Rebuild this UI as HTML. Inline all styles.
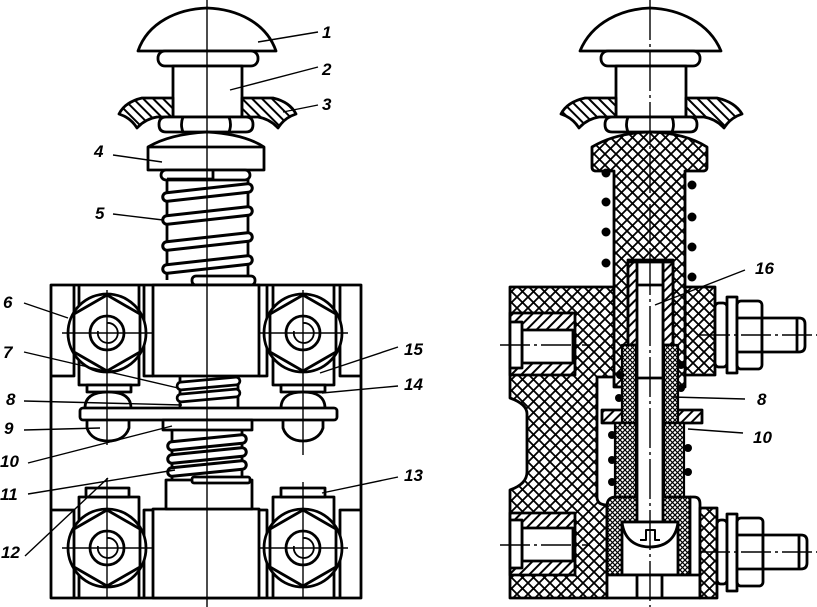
<!DOCTYPE html>
<html><head><meta charset="utf-8"><style>
html,body{margin:0;padding:0;background:#fff;}
svg{display:block;}
text{font-family:"Liberation Sans",sans-serif;font-style:italic;font-weight:bold;font-size:17px;fill:#000;}
</style></head><body>
<svg width="817" height="607" viewBox="0 0 817 607" xmlns="http://www.w3.org/2000/svg">
<defs>
<pattern id="xh" width="11" height="11" patternUnits="userSpaceOnUse"><rect width="11" height="11" fill="#fff"/><path d="M0,0L11,11M11,0L0,11" stroke="#000" stroke-width="1.8"/></pattern>
<pattern id="xf" width="5" height="5" patternUnits="userSpaceOnUse"><rect width="5" height="5" fill="#fff"/><path d="M0,0L5,5M5,0L0,5" stroke="#000" stroke-width="1.2"/></pattern>
<pattern id="hb" width="7" height="7" patternUnits="userSpaceOnUse" patternTransform="rotate(-45)"><rect width="7" height="7" fill="#fff"/><line x1="3.5" y1="0" x2="3.5" y2="7" stroke="#000" stroke-width="2"/></pattern>
<pattern id="hf" width="7" height="7" patternUnits="userSpaceOnUse" patternTransform="rotate(45)"><rect width="7" height="7" fill="#fff"/><line x1="3.5" y1="0" x2="3.5" y2="7" stroke="#000" stroke-width="2"/></pattern>
</defs>

<!-- ================= LEFT VIEW ================= -->
<g fill="#fff" stroke="#000" stroke-width="2.8" stroke-linejoin="round">
<path d="M138,51 C148,22 178,9 207,8 C236,9 266,22 276,51 Z"/>
<rect x="158" y="51" width="100" height="15" rx="7"/>
<rect x="173" y="66" width="69" height="51"/>
<path fill="url(#hb)" d="M173,98 L142,98 Q125,102 119,114 L124,116 Q132,120 137,128 Q145,119 157,117 L173,117 Z"/>
<path fill="url(#hb)" d="M242,98 L273,98 Q290,102 296,114 L291,116 Q283,120 278,128 Q270,119 258,117 L242,117 Z"/>
<path d="M166,117 H246 Q253,117 253,124.5 Q253,132 246,132 H166 Q159,132 159,124.5 Q159,117 166,117 Z"/>
<path d="M183,117 Q180,124.5 183,132 M229,117 Q232,124.5 229,132" fill="none"/>
<path d="M148,147 Q170,134 207,132 Q244,134 264,147 V170 H148 Z"/>
<line x1="148" y1="147" x2="264" y2="147"/>
<line x1="167" y1="178" x2="167" y2="280"/>
<line x1="248" y1="178" x2="248" y2="280"/>
<rect x="161" y="170" width="89" height="10" rx="5"/>
<path d="M167,179 H213 V171" fill="none"/>
</g>
<g stroke-linecap="round">
<line x1="167" y1="197" x2="248" y2="188" stroke="#000" stroke-width="11.5"/><line x1="167" y1="197" x2="248" y2="188" stroke="#fff" stroke-width="5.5"/>
<line x1="167" y1="220" x2="248" y2="211" stroke="#000" stroke-width="11.5"/><line x1="167" y1="220" x2="248" y2="211" stroke="#fff" stroke-width="5.5"/>
<line x1="167" y1="246" x2="248" y2="237" stroke="#000" stroke-width="11.5"/><line x1="167" y1="246" x2="248" y2="237" stroke="#fff" stroke-width="5.5"/>
<line x1="167" y1="269" x2="248" y2="260" stroke="#000" stroke-width="11.5"/><line x1="167" y1="269" x2="248" y2="260" stroke="#fff" stroke-width="5.5"/>
</g>
<g fill="#fff" stroke="#000" stroke-width="2.8" stroke-linejoin="round">
<rect x="192" y="276" width="63" height="9" rx="4"/>
<rect x="51" y="285" width="310" height="313"/>
<rect x="153" y="285" width="106" height="91"/>
<rect x="153" y="509" width="106" height="89"/>
<path fill="none" d="M74,285 V376 H51 M79,285 V385 H139 V285 M144,285 V376 H153 M267,285 V376 H259 M273,285 V385 H334 V285 M340,285 V376 H361"/>
<path fill="none" d="M51,510 H74 V598 M79,598 V497 H139 V598 M144,598 V510 H153 M259,510 H267 V598 M273,598 V497 H334 V598 M340,598 V510 H361"/>
<rect x="87" y="385" width="44" height="7"/>
<rect x="281" y="385" width="44" height="7"/>
<rect x="86" y="488" width="43" height="9"/>
<rect x="281" y="488" width="44" height="9"/>
<circle cx="107" cy="333" r="39"/>
<polygon points="107,295 140,314 140,352 107,371 74,352 74,314"/>
<circle cx="107" cy="333" r="17"/>
<circle cx="303" cy="333" r="39"/>
<polygon points="303,295 336,314 336,352 303,371 270,352 270,314"/>
<circle cx="303" cy="333" r="17"/>
<circle cx="107" cy="548" r="39"/>
<polygon points="107,510 140,529 140,567 107,586 74,567 74,529"/>
<circle cx="107" cy="548" r="17"/>
<circle cx="303" cy="548" r="39"/>
<polygon points="303,510 336,529 336,567 303,586 270,567 270,529"/>
<circle cx="303" cy="548" r="17"/>
<g fill="none" stroke-width="1.8">
<path d="M107,323 A10,10 0 1 1 98,331"/>
<path d="M303,323 A10,10 0 1 1 294,331"/>
<path d="M107,538 A10,10 0 1 1 98,546"/>
<path d="M303,538 A10,10 0 1 1 294,546"/>
</g>
<path d="M85,408 C85,396 95,392 108,392 C121,392 131,396 131,408"/>
<path d="M281,408 C281,396 291,392 303,392 C315,392 325,396 325,408"/>
<path d="M87,420 V428 C90,437 98,441 108,441 C118,441 126,437 129,428 V420"/>
<path d="M283,420 V428 C286,437 294,441 303,441 C312,441 320,437 323,428 V420"/>
<line x1="180" y1="376" x2="180" y2="408"/>
<line x1="238" y1="376" x2="238" y2="408"/>
<rect x="80" y="408" width="257" height="12" rx="3"/>
<rect x="163" y="420" width="89" height="10"/>
<line x1="172" y1="430" x2="172" y2="480"/>
<line x1="242" y1="430" x2="242" y2="480"/>
<rect x="166" y="480" width="86" height="29"/>
<rect x="192" y="477" width="58" height="6" rx="2"/>
</g>
<g stroke-linecap="round">
<line x1="181" y1="386" x2="236" y2="381" stroke="#000" stroke-width="10.5"/><line x1="181" y1="386" x2="236" y2="381" stroke="#fff" stroke-width="5"/>
<line x1="181" y1="398" x2="236" y2="393" stroke="#000" stroke-width="10.5"/><line x1="181" y1="398" x2="236" y2="393" stroke="#fff" stroke-width="5"/>
<line x1="172" y1="446" x2="242" y2="439" stroke="#000" stroke-width="11.5"/><line x1="172" y1="446" x2="242" y2="439" stroke="#fff" stroke-width="5.5"/>
<line x1="172" y1="459" x2="242" y2="452" stroke="#000" stroke-width="11.5"/><line x1="172" y1="459" x2="242" y2="452" stroke="#fff" stroke-width="5.5"/>
<line x1="172" y1="472" x2="242" y2="465" stroke="#000" stroke-width="11.5"/><line x1="172" y1="472" x2="242" y2="465" stroke="#fff" stroke-width="5.5"/>
</g>
<g stroke="#000" stroke-width="1.4" fill="none">
<path d="M62,333 H152 M107,290 V445 M258,333 H348 M303,290 V455"/>
<path d="M62,548 H152 M107,478 V598 M258,548 H348 M303,482 V598"/>
<line x1="207" y1="0" x2="207" y2="607"/>
</g>

<!-- ================= RIGHT VIEW ================= -->
<g stroke="#000" stroke-width="2.8" stroke-linejoin="round">
<path fill="#fff" d="M580,51 C592,22 622,9 650,8 C678,9 709,22 721,51 Z"/>
<rect fill="#fff" x="601" y="51" width="99" height="15" rx="7"/>
<rect fill="#fff" x="616" y="66" width="70" height="51"/>
<path fill="url(#hb)" d="M616,98 L585,98 Q567,102 561,114 L566,116 Q574,120 579,128 Q587,119 599,117 L616,117 Z"/>
<path fill="url(#hb)" d="M686,98 L717,98 Q735,102 742,114 L737,116 Q729,120 724,128 Q716,119 704,117 L686,117 Z"/>
<path fill="#fff" d="M612,117 H690 Q697,117 697,124.5 Q697,132 690,132 H612 Q605,132 605,124.5 Q605,117 612,117 Z"/>
<path fill="none" d="M628,117 Q625,124.5 628,132 M672,117 Q675,124.5 672,132"/>
<path fill="url(#xh)" d="M510,287 H614 V377 H597 V497 Q597,505 607,505 V598 H510 V490 Q527,484 527,472 V414 Q527,404 510,398 Z"/>
<rect fill="url(#xh)" x="685" y="287" width="30" height="88"/>
<path fill="url(#xh)" d="M592,147 Q615,133 650,132 Q685,133 707,147 V167 Q707,171 703,171 H685 V387 H614 V171 H596 Q592,171 592,167 Z"/>
<rect fill="#fff" x="628" y="260" width="45" height="127"/>
<rect fill="url(#hf)" x="628" y="262" width="10" height="83"/>
<rect fill="url(#hf)" x="663" y="262" width="10" height="83"/>
<rect fill="url(#hf)" x="602" y="410" width="100" height="13"/>
<rect fill="url(#xf)" x="622" y="345" width="14" height="78" stroke-width="2.2"/>
<rect fill="url(#xf)" x="664" y="345" width="14" height="78" stroke-width="2.2"/>
<rect fill="url(#xf)" x="615" y="423" width="21" height="77" stroke-width="2.2"/>
<rect fill="url(#xf)" x="664" y="423" width="20" height="77" stroke-width="2.2"/>
<path fill="url(#xf)" d="M607,506 Q607,497 616,497 H690 V575 H607 Z"/>
<path fill="none" d="M690,497 H694 Q700,497 700,504 V598"/>
<rect fill="#fff" x="622" y="522" width="56" height="53"/>
<rect fill="#fff" x="637" y="262" width="26" height="260"/>
<line x1="637" y1="285" x2="663" y2="285"/>
<line x1="637" y1="378" x2="663" y2="378"/>
<path fill="#fff" d="M622,522 C624,540 636,547 650,547 C664,547 676,540 678,522 Z"/>
<path fill="none" stroke-width="2" d="M640,540 H646 V530 H655 V540 H660"/>
<rect fill="#fff" x="607" y="575" width="93" height="23"/>
<path fill="none" d="M637,575 V598 M662,575 V598"/>
<rect fill="url(#xh)" x="700" y="508" width="17" height="90"/>
<rect fill="url(#hf)" x="510" y="313" width="65" height="62"/>
<rect fill="#fff" x="522" y="330" width="51" height="33"/>
<rect fill="#fff" x="510" y="322" width="12" height="46"/>
<rect fill="url(#hf)" x="510" y="513" width="65" height="62"/>
<rect fill="#fff" x="522" y="528" width="51" height="33"/>
<rect fill="#fff" x="510" y="520" width="12" height="48"/>
<rect fill="#fff" x="715" y="303" width="12" height="64" rx="4"/>
<rect fill="#fff" x="727" y="297" width="10" height="76"/>
<rect fill="#fff" x="737" y="301" width="25" height="68" rx="4"/>
<path fill="none" d="M737,318 H762 M737,352 H762"/>
<path fill="#fff" d="M762,318 H799 Q805,318 805,324 V346 Q805,352 799,352 H762 Z"/>
<line x1="797" y1="318" x2="797" y2="352"/>
<rect fill="#fff" x="717" y="520" width="10" height="64" rx="4"/>
<rect fill="#fff" x="727" y="514" width="10" height="77"/>
<rect fill="#fff" x="737" y="518" width="26" height="68" rx="4"/>
<path fill="none" d="M737,535 H763 M737,569 H763"/>
<path fill="#fff" d="M763,535 H801 Q807,535 807,541 V563 Q807,569 801,569 H763 Z"/>
<line x1="799" y1="535" x2="799" y2="569"/>
</g>
<g fill="#000">
<circle cx="606" cy="173" r="4.5"/><circle cx="606" cy="202" r="4.5"/><circle cx="606" cy="232" r="4.5"/><circle cx="606" cy="263" r="4.5"/>
<circle cx="692" cy="185" r="4.5"/><circle cx="692" cy="217" r="4.5"/><circle cx="692" cy="247" r="4.5"/><circle cx="692" cy="277" r="4.5"/>
<circle cx="620" cy="375" r="4"/><circle cx="619" cy="398" r="4"/><circle cx="681" cy="365" r="4"/><circle cx="681" cy="388" r="4"/>
<circle cx="612" cy="435" r="4"/><circle cx="612" cy="460" r="4"/><circle cx="612" cy="482" r="4"/>
<circle cx="688" cy="448" r="4"/><circle cx="688" cy="472" r="4"/>
</g>
<g stroke="#000" stroke-width="1.4" fill="none">
<line x1="650" y1="0" x2="650" y2="607" stroke-dasharray="40,4,3,4"/>
<line x1="500" y1="345" x2="590" y2="345" stroke-dasharray="30,4,3,4"/>
<line x1="500" y1="545" x2="590" y2="545" stroke-dasharray="30,4,3,4"/>
<line x1="700" y1="335" x2="817" y2="335" stroke-dasharray="30,4,3,4"/>
<line x1="700" y1="552" x2="817" y2="552" stroke-dasharray="30,4,3,4"/>
</g>

<g stroke="#000" stroke-width="1.4" fill="none">
<line x1="318" y1="32" x2="258" y2="42"/>
<line x1="318" y1="67" x2="230" y2="90"/>
<line x1="318" y1="105" x2="283" y2="112"/>
<line x1="113" y1="155" x2="162" y2="162"/>
<line x1="113" y1="214" x2="163" y2="220"/>
<line x1="24" y1="303" x2="68" y2="318"/>
<line x1="24" y1="352" x2="178" y2="388"/>
<line x1="24" y1="401" x2="182" y2="405"/>
<line x1="24" y1="430" x2="100" y2="428"/>
<line x1="28" y1="463" x2="172" y2="426"/>
<line x1="28" y1="494" x2="175" y2="470"/>
<line x1="25" y1="556" x2="108" y2="478"/>
<line x1="398" y1="347" x2="320" y2="373"/>
<line x1="398" y1="386" x2="322" y2="393"/>
<line x1="398" y1="477" x2="322" y2="493"/>
<line x1="745" y1="270" x2="655" y2="305"/>
<line x1="745" y1="399" x2="672" y2="397"/>
<line x1="743" y1="433" x2="688" y2="429"/>
</g>

<text x="322" y="38">1</text>
<text x="322" y="75">2</text>
<text x="322" y="110">3</text>
<text x="94" y="157">4</text>
<text x="95" y="219">5</text>
<text x="3" y="308">6</text>
<text x="3" y="358">7</text>
<text x="6" y="405">8</text>
<text x="4" y="434">9</text>
<text x="0" y="467">10</text>
<text x="0" y="500">11</text>
<text x="1" y="558">12</text>
<text x="404" y="481">13</text>
<text x="404" y="390">14</text>
<text x="404" y="355">15</text>
<text x="755" y="274">16</text>
<text x="757" y="405">8</text>
<text x="753" y="443">10</text>
</svg>
</body></html>
